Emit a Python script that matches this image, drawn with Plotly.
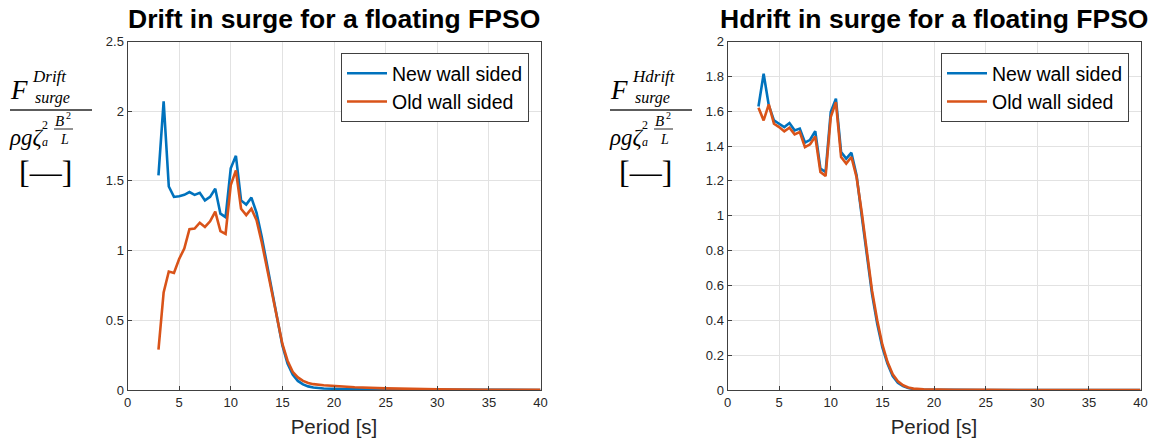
import plotly.graph_objects as go

W, H = 1168, 446

# ---------------- data ----------------
period = [3, 3.5, 4, 4.5, 5, 5.5, 6, 6.5, 7, 7.5, 8, 8.5, 9, 9.5, 10, 10.5, 11, 11.5,
          12, 12.5, 13, 13.5, 14, 14.5, 15, 15.5, 16, 16.5, 17, 17.5, 18, 19, 20,
          22, 25, 28, 30, 35, 40]

drift_new = [1.54, 2.07, 1.46, 1.385, 1.39, 1.40, 1.42, 1.40, 1.415, 1.36, 1.385, 1.444,
             1.265, 1.24, 1.59, 1.68, 1.36, 1.33, 1.38, 1.27, 1.10, 0.90, 0.70, 0.50,
             0.32, 0.19, 0.11, 0.065, 0.04, 0.026, 0.018, 0.011, 0.008,
             0.005, 0.003, 0.002, 0.0015, 0.001, 0.0005]
drift_old = [0.29, 0.70, 0.85, 0.84, 0.94, 1.015, 1.153, 1.158, 1.20, 1.17, 1.21, 1.28,
             1.14, 1.12, 1.47, 1.576, 1.30, 1.254, 1.30, 1.218, 1.06, 0.88, 0.69, 0.50,
             0.33, 0.21, 0.13, 0.09, 0.065, 0.05, 0.042, 0.034, 0.028,
             0.02, 0.012, 0.007, 0.005, 0.002, 0.001]

hdrift_new = [1.627, 1.815, 1.633, 1.547, 1.528, 1.509, 1.532, 1.49, 1.50, 1.42, 1.436, 1.486,
              1.27, 1.251, 1.595, 1.672, 1.366, 1.328, 1.362, 1.232, 1.00, 0.76, 0.55, 0.38,
              0.245, 0.15, 0.08, 0.042, 0.022, 0.011, 0.006, 0.003, 0.0015,
              0.0008, 0.0004, 0.0003, 0.0002, 0.0001, 0.0]
hdrift_old = [1.62, 1.547, 1.639, 1.528, 1.509, 1.484, 1.505, 1.467, 1.48, 1.394, 1.41, 1.455,
              1.251, 1.228, 1.566, 1.652, 1.337, 1.299, 1.337, 1.222, 1.02, 0.78, 0.57, 0.40,
              0.26, 0.16, 0.09, 0.05, 0.027, 0.014, 0.008, 0.004, 0.002,
              0.001, 0.0005, 0.0003, 0.0002, 0.0001, 0.0]

series_names = ["New wall sided", "Old wall sided"]
titles = ["Drift in surge for a floating FPSO", "Hdrift in surge for a floating FPSO"]
sup_labels = ["Drift", "Hdrift"]
x_label = "Period [s]"
x_ticks = [0, 5, 10, 15, 20, 25, 30, 35, 40]
y_ticks_left = [0, 0.5, 1, 1.5, 2, 2.5]
y_ticks_right = [0, 0.2, 0.4, 0.6, 0.8, 1, 1.2, 1.4, 1.6, 1.8, 2]

BLUE = "#0072BD"
ORANGE = "#D95319"
AX = "#404040"
GRID = "#e2e2e2"
FONT = "Arial, Liberation Sans, sans-serif"
SERIF = "Liberation Serif, Times New Roman, serif"


def px(x):
    return x / W


def py(y):
    return 1 - y / H


fig = go.Figure()

panels = [
    dict(xa="x", ya="y", new=drift_new, old=drift_old, legend="legend"),
    dict(xa="x2", ya="y2", new=hdrift_new, old=hdrift_old, legend="legend2"),
]
for p in panels:
    fig.add_trace(go.Scatter(x=period, y=p["new"], mode="lines", name=series_names[0],
                             line=dict(color=BLUE, width=2.6), xaxis=p["xa"], yaxis=p["ya"],
                             legend=p["legend"], legendgroup="a"))
    fig.add_trace(go.Scatter(x=period, y=p["old"], mode="lines", name=series_names[1],
                             line=dict(color=ORANGE, width=2.6), xaxis=p["xa"], yaxis=p["ya"],
                             legend=p["legend"], legendgroup="b"))

xdom = [[px(127.5), px(540.5)], [px(727.5), px(1140.5)]]
ydom = [py(390), py(41.5)]

axis_common = dict(showline=True, linecolor=AX, linewidth=1, mirror=True,
                   showgrid=True, gridcolor=GRID, gridwidth=1, zeroline=False,
                   ticks="inside", ticklen=4, tickcolor=AX, automargin=False,
                   tickfont=dict(family=FONT, size=13, color="#262626"))

xtitle = dict(text=x_label, font=dict(family=FONT, size=20.5, color="#262626"), standoff=11)

fig.update_layout(
    width=W, height=H, margin=dict(l=0, r=0, t=0, b=0, autoexpand=False),
    paper_bgcolor="white", plot_bgcolor="white", showlegend=True,
    xaxis=dict(domain=xdom[0], range=[0, 40], tickvals=x_ticks, anchor="y",
               title=xtitle, **axis_common),
    yaxis=dict(domain=ydom, range=[0, 2.5], tickvals=y_ticks_left, anchor="x", **axis_common),
    xaxis2=dict(domain=xdom[1], range=[0, 40], tickvals=x_ticks, anchor="y2",
                title=xtitle, **axis_common),
    yaxis2=dict(domain=ydom, range=[0, 2], tickvals=y_ticks_right, anchor="x2", **axis_common),
)

leg_common = dict(bgcolor="white", bordercolor=AX, borderwidth=1,
                  font=dict(family=FONT, size=19.5, color="black"),
                  xanchor="right", yanchor="top", tracegroupgap=0,
                  itemwidth=40)
fig.update_layout(
    legend=dict(x=px(529), y=py(53), **leg_common),
    legend2=dict(x=px(1129), y=py(53), **leg_common),
)

annotations = []
shapes = []
for i, dx in enumerate([0, 600]):
    # title
    annotations.append(dict(text="<b>%s</b>" % titles[i], x=(xdom[i][0] + xdom[i][1]) / 2,
                            y=py(19), xref="paper", yref="paper", xanchor="center",
                            yanchor="middle", showarrow=False,
                            font=dict(family=FONT, size=26.5, color="black")))

    def ann(text, x, y, size, xanchor="left"):
        annotations.append(dict(text=text, x=px(x + dx), y=py(y), xref="paper", yref="paper",
                                xanchor=xanchor, yanchor="middle", showarrow=False,
                                borderpad=0,
                                font=dict(family=SERIF, size=size, color="black")))
    ann("<i>F</i>", 9, 90, 27)
    ann("<i>%s</i>" % sup_labels[i], 31, 77, 17)
    ann("<i>surge</i>", 34, 98, 16)
    ann("<i>ρgζ</i>", 8, 137, 23)
    ann("2", 41, 125, 12)
    ann("<i>a</i>", 41, 142, 12)
    ann("<i>B</i>", 54, 121, 15)
    ann("2", 65, 116, 10)
    ann("<i>L</i>", 64, 139, 14, xanchor="center")
    ann("[—]", 45, 172, 32, xanchor="center")
    shapes.append(dict(type="line", xref="paper", yref="paper",
                       x0=px(10 + dx), x1=px(92 + dx), y0=py(110), y1=py(110),
                       line=dict(color="#262626", width=1.3)))
    shapes.append(dict(type="line", xref="paper", yref="paper",
                       x0=px(54 + dx), x1=px(73 + dx), y0=py(129), y1=py(129),
                       line=dict(color="#262626", width=1)))

fig.update_layout(annotations=annotations, shapes=shapes)

fig.write_html("out.html", config={"displayModeBar": False},
               post_script="document.body.style.margin='0';document.body.style.overflow='hidden';")
